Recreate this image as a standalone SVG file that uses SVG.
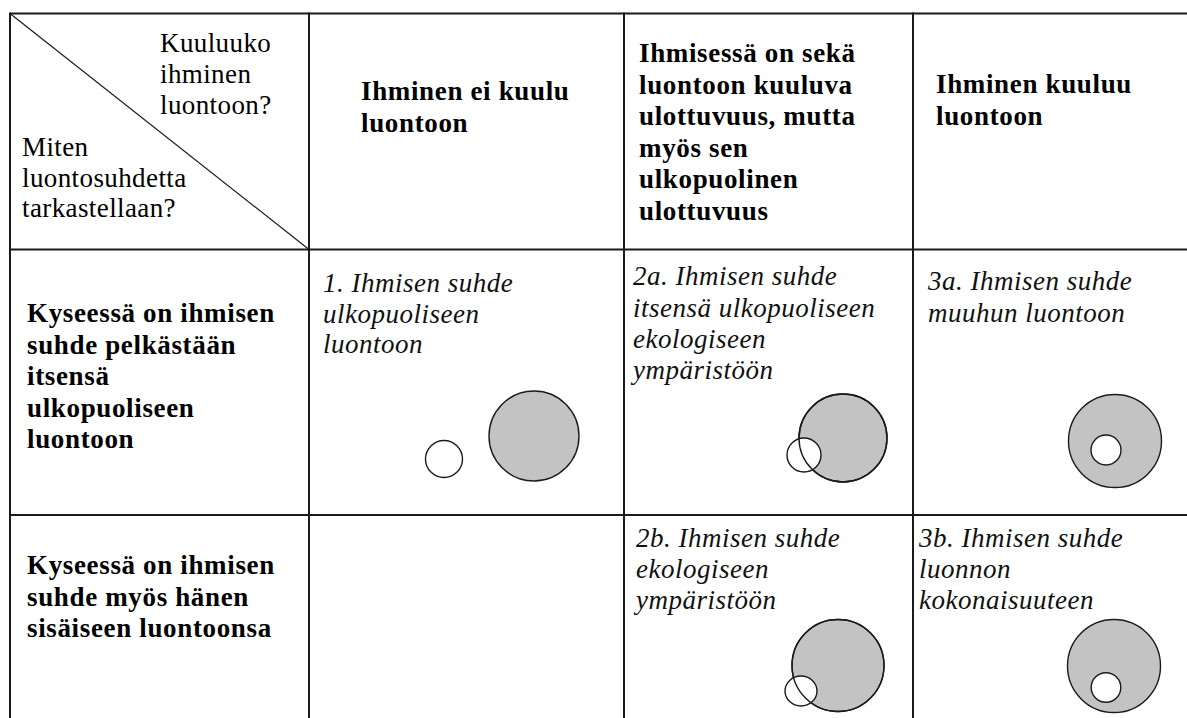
<svg xmlns="http://www.w3.org/2000/svg" width="1187" height="718" viewBox="0 0 1187 718">
<style>
.grid{stroke:#1a1a1a;stroke-width:2;fill:none}
.diag{stroke:#1a1a1a;stroke-width:1.2;fill:none}
.reg{font-family:"Liberation Serif","Times New Roman",serif;font-size:27px;letter-spacing:0.4px;fill:#000}
.bold{font-family:"Liberation Serif","Times New Roman",serif;font-size:27px;font-weight:bold;letter-spacing:0.65px;fill:#000}
.ital{font-family:"Liberation Serif","Times New Roman",serif;font-size:27px;font-style:italic;letter-spacing:0.5px;fill:#111}
.big{fill:#c3c3c3;stroke:#1a1a1a;stroke-width:1.4}
.small{fill:#fff;stroke:#1a1a1a;stroke-width:1.4}
.outline{fill:none;stroke:#1a1a1a;stroke-width:1.4}
</style>
<rect width="1187" height="718" fill="#fff"/>
<g id="connectors">
<line class="grid" x1="10" y1="13.5" x2="1187" y2="13.5"/>
<line class="grid" x1="10" y1="249.5" x2="1187" y2="249.5"/>
<line class="grid" x1="10" y1="515" x2="1187" y2="515"/>
<line class="grid" x1="10" y1="12.5" x2="10" y2="718"/>
<line class="grid" x1="309" y1="12.5" x2="309" y2="718"/>
<line class="grid" x1="624" y1="12.5" x2="624" y2="718"/>
<line class="grid" x1="913" y1="12.5" x2="913" y2="718"/>
<line class="diag" x1="10" y1="13.5" x2="309" y2="249.5"/>
</g>
<g id="corner">
<text class="reg" x="160" y="52">Kuuluuko</text>
<text class="reg" x="160" y="83">ihminen</text>
<text class="reg" x="160" y="114">luontoon?</text>
<text class="reg" x="22" y="156">Miten</text>
<text class="reg" x="22" y="187">luontosuhdetta</text>
<text class="reg" x="22" y="217">tarkastellaan?</text>
</g>
<g id="col-ei-kuulu">
<text class="bold" x="361" y="100">Ihminen ei kuulu</text>
<text class="bold" x="361" y="132">luontoon</text>
</g>
<g id="col-seka">
<text class="bold" x="639" y="62">Ihmisessä on sekä</text>
<text class="bold" x="639" y="93.5">luontoon kuuluva</text>
<text class="bold" x="639" y="125">ulottuvuus, mutta</text>
<text class="bold" x="639" y="156.5">myös sen</text>
<text class="bold" x="639" y="188">ulkopuolinen</text>
<text class="bold" x="639" y="219.5">ulottuvuus</text>
</g>
<g id="col-kuuluu">
<text class="bold" x="936" y="93">Ihminen kuuluu</text>
<text class="bold" x="936" y="125">luontoon</text>
</g>
<g id="row-ulkopuolinen">
<text class="bold" x="27" y="322">Kyseessä on ihmisen</text>
<text class="bold" x="27" y="353.5">suhde pelkästään</text>
<text class="bold" x="27" y="385">itsensä</text>
<text class="bold" x="27" y="416.5">ulkopuoliseen</text>
<text class="bold" x="27" y="448">luontoon</text>
</g>
<g id="row-sisainen">
<text class="bold" x="27" y="574">Kyseessä on ihmisen</text>
<text class="bold" x="27" y="605.5">suhde myös hänen</text>
<text class="bold" x="27" y="637">sisäiseen luontoonsa</text>
</g>
<g id="cell-1">
<text class="ital" x="323" y="292">1. Ihmisen suhde</text>
<text class="ital" x="323" y="323">ulkopuoliseen</text>
<text class="ital" x="323" y="353">luontoon</text>
<circle class="big" cx="534" cy="436" r="45"/>
<circle class="small" cx="444" cy="459" r="18.5"/>
</g>
<g id="cell-2a">
<text class="ital" x="633" y="285">2a. Ihmisen suhde</text>
<text class="ital" x="633" y="316.5">itsensä ulkopuoliseen</text>
<text class="ital" x="633" y="348">ekologiseen</text>
<text class="ital" x="633" y="379">ympäristöön</text>
<circle class="big" cx="843" cy="438" r="44"/>
<circle class="small" cx="804" cy="455" r="17"/>
<circle class="outline" cx="843" cy="438" r="44"/>
</g>
<g id="cell-3a">
<text class="ital" x="928" y="290">3a. Ihmisen suhde</text>
<text class="ital" x="928" y="322">muuhun luontoon</text>
<circle class="big" cx="1115" cy="441" r="46.5"/>
<circle class="small" cx="1106" cy="450" r="15"/>
</g>
<g id="cell-2b">
<text class="ital" x="636" y="547">2b. Ihmisen suhde</text>
<text class="ital" x="636" y="578">ekologiseen</text>
<text class="ital" x="636" y="609">ympäristöön</text>
<circle class="big" cx="838" cy="665.5" r="46"/>
<ellipse class="small" cx="801" cy="691" rx="16" ry="15"/>
<circle class="outline" cx="838" cy="665.5" r="46"/>
</g>
<g id="cell-3b">
<text class="ital" x="919" y="547">3b. Ihmisen suhde</text>
<text class="ital" x="919" y="578">luonnon</text>
<text class="ital" x="919" y="609">kokonaisuuteen</text>
<circle class="big" cx="1114" cy="666" r="46.5"/>
<circle class="small" cx="1106" cy="687.5" r="14.8"/>
</g>
</svg>
